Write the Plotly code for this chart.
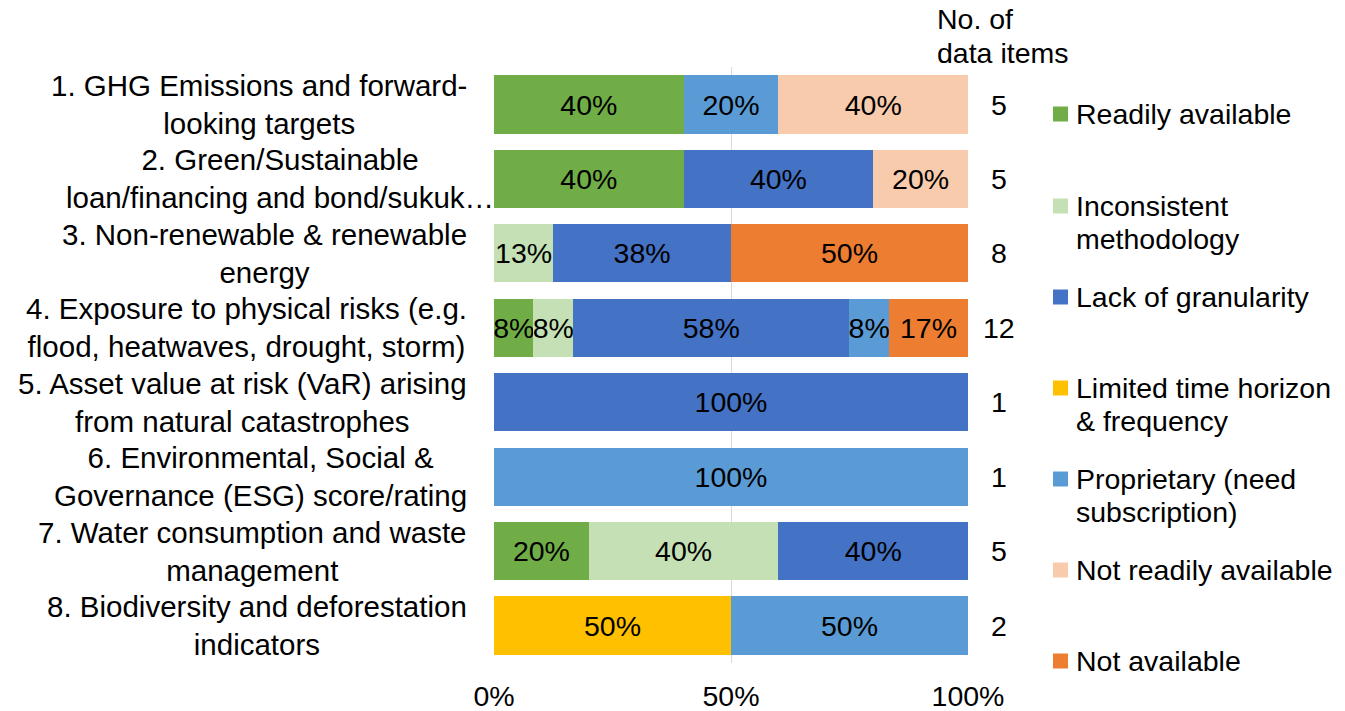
import plotly.graph_objects as go

categories = [
    "1. GHG Emissions and forward-<br>looking targets",
    "2. Green/Sustainable<br>loan/financing and bond/sukuk…",
    "3. Non-renewable & renewable<br>energy",
    "4. Exposure to physical risks (e.g.<br>flood, heatwaves, drought, storm)",
    "5. Asset value at risk (VaR) arising<br>from natural catastrophes",
    "6. Environmental, Social &<br>Governance (ESG) score/rating",
    "7. Water consumption and waste<br>management",
    "8. Biodiversity and deforestation<br>indicators",
]
n_items = [5, 5, 8, 12, 1, 1, 5, 2]

series_names = [
    "Readily available",
    "Inconsistent methodology",
    "Lack of granularity",
    "Limited time horizon & frequency",
    "Proprietary (need subscription)",
    "Not readily available",
    "Not available",
]
legend_labels = [
    "Readily available",
    "Inconsistent<br>methodology",
    "Lack of granularity",
    "Limited time horizon<br>& frequency",
    "Proprietary (need<br>subscription)",
    "Not readily available",
    "Not available",
]
colors = ["#70AD47", "#C5E0B4", "#4472C4", "#FFC000", "#5B9BD5", "#F8CBAD", "#ED7D31"]

readily      = [40, 40, None, 8.33, None, None, 20, None]
inconsistent = [None, None, 12.5, 8.33, None, None, 40, None]
lack         = [None, 40, 37.5, 58.33, 100, None, 40, None]
limited      = [None, None, None, None, None, None, None, 50]
proprietary  = [20, None, None, 8.33, None, 100, None, 50]
not_readily  = [40, 20, None, None, None, None, None, None]
not_avail    = [None, None, 50, 16.67, None, None, None, None]
series_values = [readily, inconsistent, lack, limited, proprietary, not_readily, not_avail]

x_ticks = [0, 50, 100]
x_tick_text = [f"{v}%" for v in x_ticks]

FONT = "Liberation Sans, Arial, sans-serif"
FS = 28.5
FS_CAT = 29.5
LINE = 33  # line pitch of wrapped texts, px

W, H = 1345, 711
# plot area in page pixels
PL, PR, PT, PB = 494, 968, 67, 663

def px_x(p):
    return (p - PL) / (PR - PL)

def px_y(p):
    return (PB - p) / (PB - PT)

fig = go.Figure()
for name, vals, col in zip(series_names, series_values, colors):
    fig.add_trace(go.Bar(
        y=categories, x=vals, name=name, orientation="h",
        marker=dict(color=col, line=dict(width=0)),
        texttemplate="%{x:.0f}%", textposition="inside",
        insidetextanchor="middle", textangle=0,
        textfont=dict(family=FONT, size=FS, color="black"),
        showlegend=False,
    ))

annotations = []
# category labels
for cat in categories:
    xr = 496 if cat.startswith("2.") else 469
    annotations.append(dict(
        x=px_x(xr), xref="paper", y=cat, yref="y", text=cat,
        xanchor="right", yanchor="middle", align="center", showarrow=False,
        font=dict(family=FONT, size=FS_CAT, color="black"),
    ))
# number of items
for cat, n in zip(categories, n_items):
    annotations.append(dict(
        x=px_x(999), xref="paper", y=cat, yref="y", text=str(n),
        xanchor="center", yanchor="middle", showarrow=False,
        font=dict(family=FONT, size=FS, color="black"),
    ))
# header (one annotation per line)
for txt, yc in (("No. of", 19), ("data items", 53)):
    annotations.append(dict(
        x=px_x(935), xref="paper", y=px_y(yc), yref="paper",
        text=txt, xanchor="left", yanchor="middle",
        align="left", showarrow=False,
        font=dict(family=FONT, size=FS, color="black"),
    ))

# custom legend
shapes = []
legend_y = [114, 206, 297, 388, 479, 570, 661]
for lbl, col, yc in zip(legend_labels, colors, legend_y):
    shapes.append(dict(
        type="rect", xref="paper", yref="paper",
        x0=px_x(1053), x1=px_x(1068), y0=px_y(yc + 7.5), y1=px_y(yc - 7.5),
        fillcolor=col, line=dict(width=0),
    ))
    for i, line in enumerate(lbl.split("<br>")):
        annotations.append(dict(
            x=px_x(1074), xref="paper", y=px_y(yc + i * LINE), yref="paper",
            text=line, xanchor="left", yanchor="middle", align="left",
            showarrow=False, font=dict(family=FONT, size=FS, color="black"),
        ))

fig.update_layout(
    width=W, height=H,
    margin=dict(l=PL, r=W - PR, t=PT, b=H - PB, pad=0, autoexpand=False),
    barmode="stack", bargap=0.22,
    plot_bgcolor="white", paper_bgcolor="white",
    font=dict(family=FONT, size=FS, color="black"),
    uniformtext=dict(minsize=FS, mode="show"),
    annotations=annotations, shapes=shapes,
    xaxis=dict(
        range=[0, 100], tickmode="array", tickvals=x_ticks, ticktext=x_tick_text,
        showgrid=True, gridcolor="#D9D9D9", gridwidth=1,
        zeroline=False, showline=False, automargin=False,
        ticks="outside", ticklen=7.5, tickcolor="rgba(0,0,0,0)",
        tickfont=dict(family=FONT, size=FS, color="black"),
    ),
    yaxis=dict(
        categoryorder="array", categoryarray=categories,
        autorange="reversed", showticklabels=False, automargin=False,
        showgrid=False, zeroline=False, showline=False,
    ),
)

fig.write_html(
    "out.html",
    config={"displayModeBar": False},
    post_script="document.body.style.margin='0';document.body.style.overflow='hidden';",
)
